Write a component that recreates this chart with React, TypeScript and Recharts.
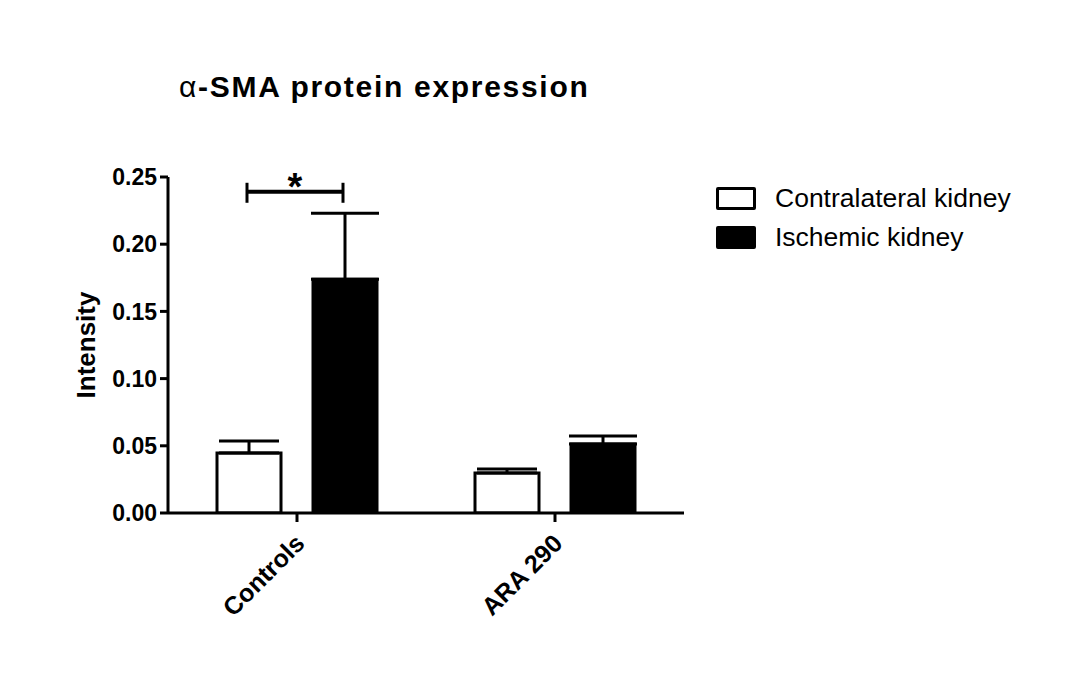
import React from 'react';
import { BarChart, Bar, XAxis, YAxis, ErrorBar, Legend, LabelList } from 'recharts';

const groups = ['Controls', 'ARA 290'];
const contralateral = [0.0446, 0.0298];
const contralateralSem = [0.009, 0.003];
const ischemic = [0.174, 0.0513];
const ischemicSem = [0.049, 0.006];
const yTicks = [0, 0.05, 0.1, 0.15, 0.2, 0.25];
const sigLevel = 0.239;

const chartData = groups.map((name, i) => ({
  name,
  contra: contralateral[i],
  contraErr: [0, contralateralSem[i]],
  isch: ischemic[i],
  ischErr: [0, ischemicSem[i]],
}));

const FONT = '"Liberation Sans", Arial, sans-serif';
const BAR_SIZE = 64;
const BAR_GAP = 32;

const XTick = (props: any) => {
  const { x, y, payload } = props;
  return (
    <text
      x={x + 9}
      y={y + 21}
      transform={`rotate(-45, ${x + 9}, ${y + 21})`}
      textAnchor="end"
      fontFamily={FONT}
      fontWeight="bold"
      fontSize={25}
      fill="#000"
    >
      {payload.value}
    </text>
  );
};

// significance bracket drawn over the Controls pair
const Bracket = (props: any) => {
  const { x, y, width, height, value, index } = props;
  if (index !== 0) return null;
  const base = y + height;
  const yy = base - (sigLevel * height) / value;
  const x1 = x + width / 2 - 2;
  const x2 = x1 + width + BAR_GAP;
  return (
    <g>
      <line x1={x1} x2={x2} y1={yy} y2={yy} stroke="#000" strokeWidth={4} />
      <line x1={x1} x2={x1} y1={yy - 9} y2={yy + 11} stroke="#000" strokeWidth={3} />
      <line x1={x2} x2={x2} y1={yy - 9} y2={yy + 11} stroke="#000" strokeWidth={3} />
      <text x={(x1 + x2) / 2} y={yy + 8} textAnchor="middle" fontFamily={FONT} fontWeight="bold" fontSize={38} fill="#000">
        *
      </text>
    </g>
  );
};

const LegendContent = () => (
  <div style={{ fontFamily: FONT, fontSize: 26.5, color: '#000' }}>
    {[
      { label: 'Contralateral kidney', fill: '#fff' },
      { label: 'Ischemic kidney', fill: '#000' },
    ].map((it) => (
      <div key={it.label} style={{ display: 'flex', alignItems: 'center', height: 39 }}>
        <div
          style={{
            width: 34,
            height: 17,
            background: it.fill,
            border: '3px solid #000',
            borderRadius: 2,
            marginRight: 19,
          }}
        />
        <span>{it.label}</span>
      </div>
    ))}
  </div>
);

export default function App() {
  return (
    <div style={{ position: 'absolute', left: 0, top: 0, width: 1088, height: 685, background: '#fff' }}>
      <div
        style={{
          position: 'absolute',
          left: 179,
          top: 70,
          fontFamily: FONT,
          fontWeight: 'bold',
          fontSize: 30,
          letterSpacing: 1.7,
          color: '#000',
          whiteSpace: 'nowrap',
        }}
      >
        <span style={{ fontWeight: 'normal' }}>α</span>-SMA protein expression
      </div>
      <BarChart
        width={1088}
        height={685}
        data={chartData}
        margin={{ top: 177, right: 404, left: 0, bottom: 0 }}
        barSize={BAR_SIZE}
        barGap={BAR_GAP}
      >
        <XAxis
          dataKey="name"
          height={172}
          axisLine={{ stroke: '#000', strokeWidth: 3 }}
          tickLine={{ stroke: '#000', strokeWidth: 3 }}
          tickSize={9}
          tick={<XTick />}
          interval={0}
        />
        <YAxis
          width={168}
          domain={[0, 0.25]}
          ticks={yTicks}
          allowDataOverflow
          axisLine={{ stroke: '#000', strokeWidth: 3 }}
          tickLine={{ stroke: '#000', strokeWidth: 3 }}
          tickSize={8}
          tickMargin={3}
          tickFormatter={(v: number) => v.toFixed(2)}
          tick={{ fill: '#000', fontFamily: FONT, fontWeight: 'bold', fontSize: 23 }}
          label={{
            content: (p: any) => {
              const vb = p.viewBox;
              const cy = vb.y + vb.height / 2;
              return (
                <text
                  x={86}
                  y={cy}
                  transform={`rotate(-90, 86, ${cy})`}
                  textAnchor="middle"
                  dominantBaseline="central"
                  fontFamily={FONT}
                  fontWeight="bold"
                  fontSize={26}
                  fill="#000"
                >
                  Intensity
                </text>
              );
            },
          }}
        />
        <Legend
          layout="vertical"
          align="center"
          verticalAlign="middle"
          content={<LegendContent />}
          wrapperStyle={{ left: 716, top: 179, width: 340 }}
        />
        <Bar dataKey="contra" fill="#fff" stroke="#000" strokeWidth={3} isAnimationActive={false}>
          <ErrorBar dataKey="contraErr" direction="y" width={30} stroke="#000" strokeWidth={3} />
          <LabelList dataKey="contra" content={<Bracket />} />
        </Bar>
        <Bar dataKey="isch" fill="#000" stroke="#000" strokeWidth={3} isAnimationActive={false}>
          <ErrorBar dataKey="ischErr" direction="y" width={34} stroke="#000" strokeWidth={3} />
        </Bar>
      </BarChart>
    </div>
  );
}
